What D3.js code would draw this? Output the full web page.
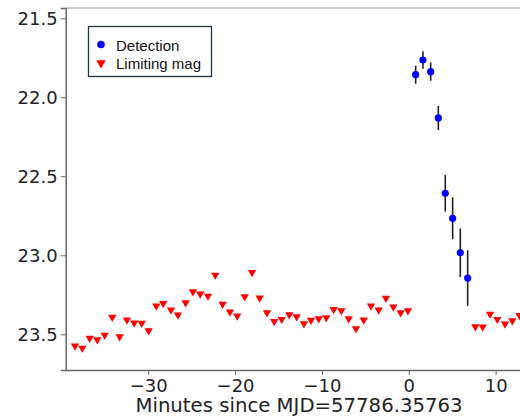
<!DOCTYPE html>
<html><head><meta charset="utf-8">
<script src="https://cdn.jsdelivr.net/npm/d3@7"></script>
<style>body{margin:0;background:#fff}svg{display:block}</style>
</head><body>
<svg id="c" width="520" height="417"></svg>
<script>
// Limiting magnitudes (upper limits)
const limTime = [-38.43,-37.59,-36.74,-35.87,-35.01,-34.14,-33.29,-32.45,-31.61,-30.75,-29.95,-29.07,-28.27,-27.38,-26.57,-25.69,-24.85,-24.01,-23.12,-22.28,-21.43,-20.59,-19.75,-18.89,-18.05,-17.17,-16.33,-15.49,-14.63,-13.76,-12.91,-12.07,-11.26,-10.37,-9.50,-8.65,-7.77,-6.92,-6.08,-5.19,-4.35,-3.47,-2.63,-1.78,-0.93,-0.09,7.66,8.51,9.35,10.19,11.08,11.92,12.75];
const limMag = [23.574,23.587,23.524,23.534,23.506,23.392,23.515,23.409,23.428,23.430,23.477,23.321,23.304,23.346,23.378,23.300,23.230,23.245,23.258,23.125,23.310,23.359,23.384,23.262,23.108,23.270,23.363,23.418,23.405,23.376,23.389,23.433,23.411,23.401,23.395,23.342,23.351,23.401,23.465,23.409,23.321,23.346,23.272,23.327,23.363,23.351,23.452,23.454,23.372,23.405,23.435,23.414,23.380];
// Detections
const detTime = [0.79,1.63,2.52,3.40,4.20,5.05,5.93,6.78];
const detMag = [21.857,21.764,21.838,22.131,22.608,22.766,22.984,23.144];
const detErr = [0.057,0.055,0.058,0.076,0.116,0.133,0.154,0.176];
const xTicks = [-30,-20,-10,0,10];
const yTicks = [21.5,22.0,22.5,23.0,23.5];
const legendLabels = ["Detection","Limiting mag"];

const svg = d3.select("#c");
const L = 65.7, T = 8, R = 560, B = 370;
const x = d3.scaleLinear().domain([-39.5, (R-408.8)/8.685]).range([L, R]);
const y = d3.scaleLinear().domain([21.435, 23.726]).range([T, B]);

const font = "DejaVu Sans, sans-serif";
// spines
svg.append("line").attr("x1",L).attr("x2",520).attr("y1",T).attr("y2",T).attr("stroke","#b8b8b8").attr("stroke-width",1.5);
const yAxis = svg.append("g").attr("transform",`translate(${L},0)`)
  .call(d3.axisLeft(y).tickValues(yTicks).tickFormat(d3.format(".1f")).tickSize(5).tickPadding(3));
const xAxis = svg.append("g").attr("transform",`translate(0,${B})`)
  .call(d3.axisBottom(x).tickValues(xTicks).tickFormat(d=>d<0?"\u2212"+Math.abs(d):d).tickSize(5).tickPadding(4));
[yAxis,xAxis].forEach(g=>{
  g.selectAll(".domain").attr("stroke","#666").attr("stroke-width",1.5);
  g.selectAll(".tick line").attr("stroke","#666").attr("stroke-width",1);
  g.selectAll("text").attr("font-family",font).attr("font-size",18).attr("fill","#222");
});
xAxis.select(".domain").attr("d",`M${L},0.5H520`);

svg.append("text").attr("x",299).attr("y",412.3).attr("text-anchor","middle")
  .attr("font-family",font).attr("font-size",19.7).attr("fill","#222")
  .text("Minutes since MJD=57786.35763");

const tri = d3.symbol().type(d3.symbolTriangle).size(30);
svg.append("g").selectAll("path").data(limTime).join("path")
  .attr("transform",(d,i)=>`translate(${x(d)},${y(limMag[i])}) rotate(180)`)
  .attr("d",tri).attr("fill","#ff0000");

svg.append("g").selectAll("line").data(detTime).join("line")
  .attr("x1",d=>x(d)).attr("x2",d=>x(d))
  .attr("y1",(d,i)=>y(detMag[i]-detErr[i])).attr("y2",(d,i)=>y(detMag[i]+detErr[i]))
  .attr("stroke","#222").attr("stroke-width",1.6);
svg.append("g").selectAll("circle").data(detTime).join("circle")
  .attr("cx",d=>x(d)).attr("cy",(d,i)=>y(detMag[i])).attr("r",3.6).attr("fill","#0000ff");

// legend
const lg = svg.append("g");
lg.append("rect").attr("x",88.5).attr("y",26.5).attr("width",123).attr("height",50)
  .attr("fill","#fff").attr("stroke","#1f3340").attr("stroke-width",1.3);
lg.append("circle").attr("cx",101).attr("cy",44.5).attr("r",3.8).attr("fill","#0000ff");
lg.append("path").attr("transform","translate(101,63) rotate(180)").attr("d",d3.symbol().type(d3.symbolTriangle).size(40)).attr("fill","#ff0000");
lg.selectAll("text").data(legendLabels).join("text")
  .attr("x",116).attr("y",(d,i)=>50.5+i*18.5)
  .attr("font-family","Liberation Sans, Arial, sans-serif").attr("font-size",15).attr("fill","#111")
  .text(d=>d);
</script>
</body></html>
